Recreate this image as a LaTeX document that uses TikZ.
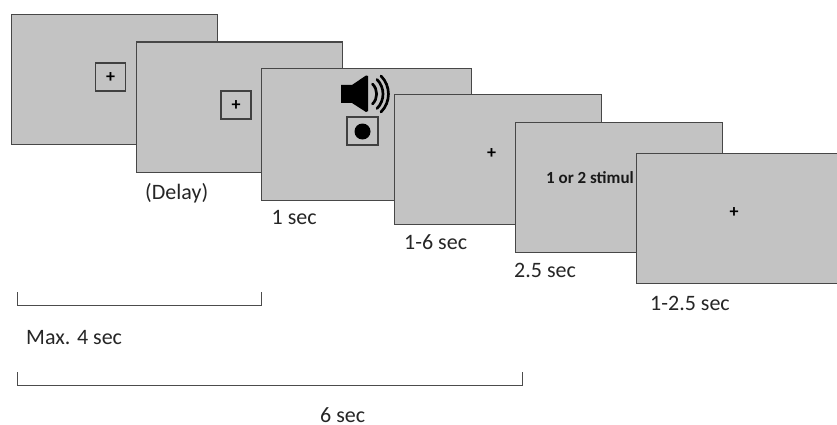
\documentclass[tikz,border=0pt]{standalone}
\usepackage{fontspec}
\setmainfont{Carlito}
\tikzset{
  screen/.style={draw=black!72,fill=screenfill,line width=1.2pt,rectangle,inner sep=0pt,anchor=north west},
  cue/.style={draw=black!75,line width=1.5pt,rectangle,inner sep=0pt,minimum width=30pt,minimum height=28pt},
  fix/.style={font=\fontsize{18}{18}\selectfont\bfseries,inner sep=0pt,text=black},
  lab/.style={font=\fontsize{22}{22}\selectfont,inner sep=0pt,anchor=base west,text=black!85},
  brack/.style={draw=black!70,line width=0.9pt},
  wave/.style={line width=2.7pt,line cap=round,draw=black}
}
\definecolor{screenfill}{HTML}{C3C3C3}
\begin{document}
\begin{tikzpicture}[x=1pt,y=-1pt]
\path[use as bounding box] (0,0) rectangle (837,425);
\clip (0,0) rectangle (837,425);
\fill[white] (0,0) rectangle (837,425);
% screen 1
\node[screen,minimum width=206.5pt,minimum height=130pt] (s1) at (10.5,14) {};
\node[cue] (c1) at (110.5,77) {};
\node[fix] (p1) at (110.5,78) {+};
% screen 2
\node[screen,minimum width=206pt,minimum height=130pt] (s2) at (136,41.5) {};
\node[cue] (c2) at (236,105) {};
\node[fix] (p2) at (236,106) {+};
% screen 3
\node[screen,minimum width=210pt,minimum height=131.5pt] (s3) at (261,68) {};
\fill (341,85) -- (352,85) -- (366,75.5) to[bend left=8] (368,76) -- (368,111) to[bend left=8] (366,112) -- (352,103) -- (341,103) -- cycle;
\draw[wave] (372.5,84) to[bend left=45] (372.5,104);
\draw[wave] (377,79.5) to[bend left=45] (377,108.5);
\draw[wave] (381,76) to[bend left=45] (381,112);
\node[cue,minimum width=31pt] (c3) at (362.5,131) {};
\node[circle,fill=black,minimum size=16pt,inner sep=0pt] (dot) at (362.5,131.5) {};
% screen 4
\node[screen,minimum width=207pt,minimum height=130pt] (s4) at (394,94) {};
\node[fix] (p4) at (491.5,154) {+};
% screen 5
\node[screen,minimum width=207pt,minimum height=130pt] (s5) at (515,122) {};
\node[font=\fontsize{17}{17}\selectfont\bfseries,inner sep=0pt,anchor=base west,text=black!90] (stim) at (546,183) {1 or 2 stimul};
% screen 6
\node[screen,minimum width=215pt,minimum height=129.5pt] (s6) at (636,153) {};
\node[fix] (p6) at (734,213) {+};
% labels
\node[lab] (l2) at (145,199.5) {(Delay)};
\node[lab] (l3) at (271.5,224) {1 sec};
\node[lab] (l4) at (404,249) {1-6 sec};
\node[lab] (l5) at (514,277) {2.5 sec};
\node[lab] (l6) at (650,310) {1-2.5 sec};
\node[lab] (m4) at (26,344) {Max. 4 sec};
\node[lab] (m6) at (320,422) {6 sec};
% brackets
\coordinate (a1) at (17,292);
\coordinate (a2) at (17,305);
\coordinate (a3) at (261,305);
\coordinate (a4) at (261,292);
\draw[brack] (a1) -- (a2) -- (a3) -- (a4);
\coordinate (b1) at (17,372);
\coordinate (b2) at (17,385);
\coordinate (b3) at (522,385);
\coordinate (b4) at (522,372);
\draw[brack] (b1) -- (b2) -- (b3) -- (b4);
\end{tikzpicture}
\end{document}
